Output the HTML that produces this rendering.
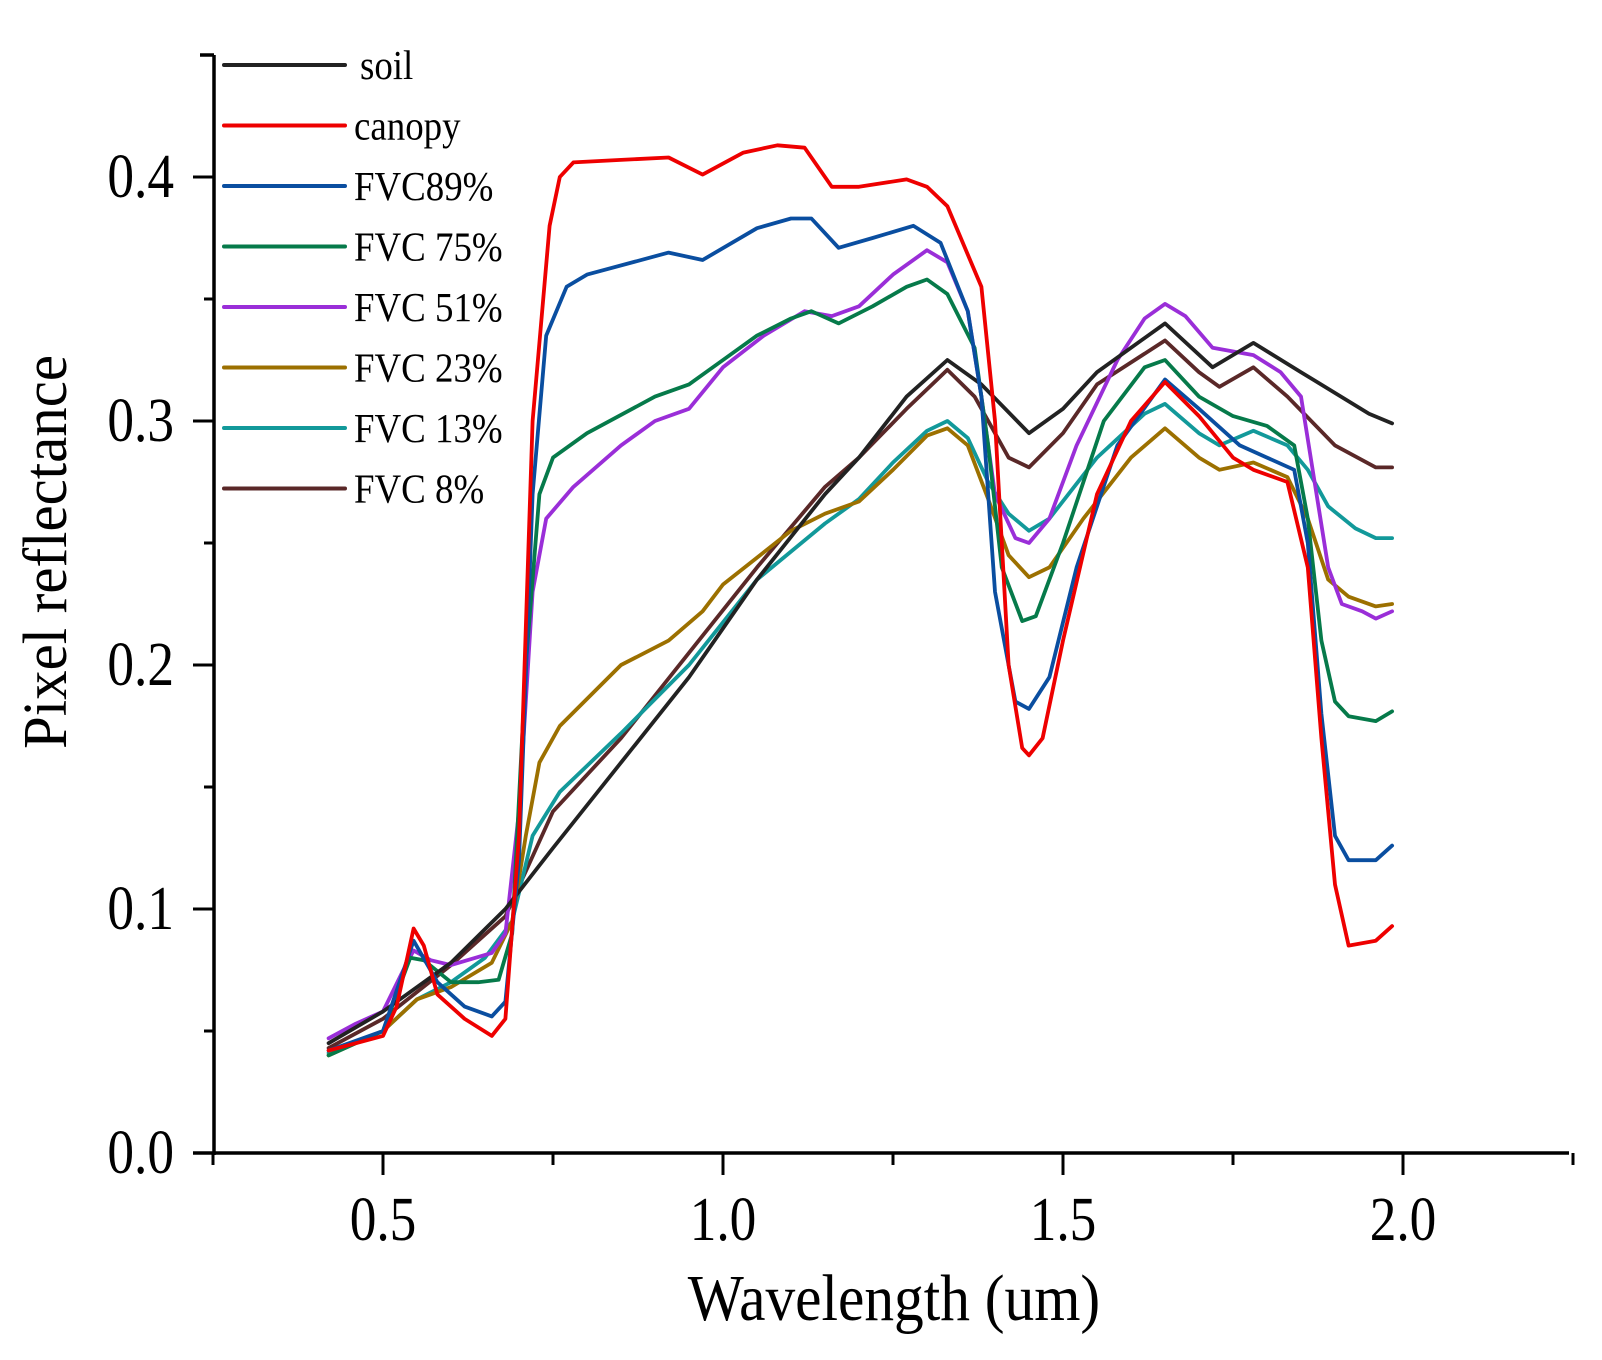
<!DOCTYPE html>
<html><head><meta charset="utf-8"><style>
html,body{margin:0;padding:0;background:#fff;}
svg{display:block;}
text{font-family:"Liberation Serif",serif;fill:#000;}
</style></head><body>
<svg id="c" width="1602" height="1360" viewBox="0 0 1602 1360" xmlns="http://www.w3.org/2000/svg">
<g stroke="#000" stroke-width="3.5" fill="none">
<line x1="214" y1="55" x2="214" y2="1155"/>
<line x1="193" y1="1153" x2="1569" y2="1153"/>
<line x1="200" y1="55" x2="214" y2="55"/>
</g>
<g id="ticks" stroke="#000" stroke-width="3" fill="none"></g>
<g font-size="62" text-anchor="end">
<text transform="translate(174,1173) scale(0.86,1)">0.0</text>
<text transform="translate(174,929) scale(0.86,1)">0.1</text>
<text transform="translate(174,685) scale(0.86,1)">0.2</text>
<text transform="translate(174,441) scale(0.86,1)">0.3</text>
<text transform="translate(174,197) scale(0.86,1)">0.4</text>
</g>
<g font-size="62" text-anchor="middle">
<text transform="translate(383,1240) scale(0.86,1)">0.5</text>
<text transform="translate(723,1240) scale(0.86,1)">1.0</text>
<text transform="translate(1063,1240) scale(0.86,1)">1.5</text>
<text transform="translate(1403,1240) scale(0.86,1)">2.0</text>
</g>
<text transform="translate(894,1320) scale(0.9,1)" font-size="66" text-anchor="middle">Wavelength (um)</text>
<text transform="translate(66,552) rotate(-90) scale(0.95,1)" font-size="62" text-anchor="middle">Pixel reflectance</text>
<g id="series" fill="none" stroke-width="3.8" stroke-linejoin="round" stroke-linecap="round"></g>
<g id="legend" font-size="41"></g>
</svg>
<script>
var X=function(w){return 383+(w-0.5)*680;},Y=function(r){return 1153-r*2440;};
var t=document.getElementById('ticks'),s='';
for(var i=0;i<=8;i++){var y=1153-i*122;s+='<line x1="'+(i%2?204:193)+'" y1="'+y+'" x2="214" y2="'+y+'"/>';}
for(var w=0.25;w<=2.26;w+=0.25){var x=X(w),maj=Math.abs(w*2-Math.round(w*2))<0.01;s+='<line x1="'+x+'" y1="1153" x2="'+x+'" y2="'+(maj?1175:1165)+'"/>';}
t.innerHTML=s;
var D=[
["soil","#222222",[0.42,0.045,0.5,0.058,0.6,0.078,0.68,0.1,0.75,0.125,0.85,0.16,0.95,0.195,1.05,0.235,1.15,0.27,1.2,0.285,1.27,0.31,1.33,0.325,1.38,0.315,1.45,0.295,1.5,0.305,1.55,0.32,1.65,0.34,1.72,0.322,1.78,0.332,1.85,0.32,1.95,0.303,1.984,0.299]],
["canopy","#ee0000",[0.42,0.042,0.5,0.048,0.52,0.06,0.545,0.092,0.56,0.085,0.58,0.065,0.62,0.055,0.66,0.048,0.68,0.055,0.7,0.13,0.72,0.3,0.745,0.38,0.76,0.4,0.78,0.406,0.85,0.407,0.92,0.408,0.97,0.401,1.03,0.41,1.08,0.413,1.12,0.412,1.16,0.396,1.2,0.396,1.27,0.399,1.3,0.396,1.33,0.388,1.38,0.355,1.4,0.3,1.42,0.2,1.44,0.166,1.45,0.163,1.47,0.17,1.5,0.21,1.55,0.27,1.6,0.3,1.65,0.316,1.7,0.302,1.75,0.285,1.78,0.28,1.83,0.275,1.86,0.24,1.88,0.17,1.9,0.11,1.92,0.085,1.96,0.087,1.984,0.093]],
["FVC89%","#0a4ea0",[0.42,0.042,0.5,0.05,0.545,0.087,0.58,0.07,0.62,0.06,0.66,0.056,0.68,0.062,0.7,0.12,0.72,0.27,0.74,0.335,0.77,0.355,0.8,0.36,0.92,0.369,0.97,0.366,1.05,0.379,1.1,0.383,1.13,0.383,1.17,0.371,1.22,0.375,1.28,0.38,1.32,0.373,1.36,0.345,1.38,0.31,1.4,0.23,1.43,0.185,1.45,0.182,1.48,0.195,1.52,0.24,1.58,0.29,1.65,0.317,1.7,0.305,1.76,0.29,1.8,0.285,1.84,0.28,1.86,0.25,1.88,0.18,1.9,0.13,1.92,0.12,1.96,0.12,1.984,0.126]],
["FVC 75%","#067a4a",[0.42,0.04,0.5,0.05,0.54,0.08,0.56,0.079,0.6,0.07,0.64,0.07,0.67,0.071,0.69,0.09,0.71,0.2,0.73,0.27,0.75,0.285,0.8,0.295,0.9,0.31,0.95,0.315,1.0,0.325,1.05,0.335,1.1,0.342,1.13,0.345,1.17,0.34,1.22,0.347,1.27,0.355,1.3,0.358,1.33,0.352,1.37,0.33,1.39,0.29,1.41,0.24,1.44,0.218,1.46,0.22,1.5,0.25,1.56,0.3,1.62,0.322,1.65,0.325,1.7,0.31,1.75,0.302,1.8,0.298,1.84,0.29,1.86,0.26,1.88,0.21,1.9,0.185,1.92,0.179,1.96,0.177,1.984,0.181]],
["FVC 51%","#9a2ed8",[0.42,0.047,0.46,0.053,0.5,0.058,0.53,0.075,0.545,0.083,0.57,0.079,0.6,0.077,0.66,0.082,0.68,0.09,0.7,0.14,0.72,0.23,0.74,0.26,0.78,0.273,0.85,0.29,0.9,0.3,0.95,0.305,1.0,0.322,1.06,0.335,1.12,0.345,1.16,0.343,1.2,0.347,1.25,0.36,1.3,0.37,1.33,0.365,1.36,0.345,1.38,0.31,1.4,0.27,1.43,0.252,1.45,0.25,1.48,0.26,1.52,0.29,1.58,0.325,1.62,0.342,1.65,0.348,1.68,0.343,1.72,0.33,1.78,0.327,1.82,0.32,1.85,0.31,1.87,0.275,1.89,0.24,1.91,0.225,1.94,0.222,1.96,0.219,1.984,0.222]],
["FVC 23%","#9c7000",[0.42,0.04,0.5,0.05,0.55,0.063,0.6,0.068,0.66,0.078,0.69,0.095,0.71,0.13,0.73,0.16,0.76,0.175,0.85,0.2,0.92,0.21,0.97,0.222,1.0,0.233,1.1,0.255,1.15,0.262,1.2,0.267,1.25,0.28,1.3,0.294,1.33,0.297,1.36,0.29,1.39,0.268,1.42,0.245,1.45,0.236,1.48,0.24,1.53,0.26,1.6,0.285,1.65,0.297,1.7,0.285,1.73,0.28,1.78,0.283,1.83,0.277,1.86,0.26,1.89,0.235,1.92,0.228,1.96,0.224,1.984,0.225]],
["FVC 13%","#12999a",[0.42,0.041,0.5,0.05,0.55,0.063,0.6,0.07,0.65,0.08,0.69,0.095,0.72,0.13,0.76,0.148,0.85,0.172,0.95,0.2,1.05,0.235,1.15,0.258,1.2,0.268,1.25,0.283,1.3,0.296,1.33,0.3,1.36,0.293,1.39,0.275,1.42,0.262,1.45,0.255,1.48,0.26,1.55,0.285,1.62,0.303,1.65,0.307,1.7,0.295,1.73,0.29,1.78,0.296,1.83,0.29,1.86,0.28,1.89,0.265,1.93,0.256,1.96,0.252,1.984,0.252]],
["FVC 8%","#5a2828",[0.42,0.043,0.5,0.055,0.6,0.077,0.68,0.097,0.75,0.14,0.85,0.17,0.95,0.205,1.05,0.24,1.15,0.273,1.2,0.285,1.27,0.305,1.33,0.321,1.37,0.31,1.42,0.285,1.45,0.281,1.5,0.295,1.55,0.315,1.65,0.333,1.7,0.32,1.73,0.314,1.78,0.322,1.83,0.31,1.9,0.29,1.96,0.281,1.984,0.281]]
];
var order=[7,6,5,4,3,0,2,1],g='',L='';
order.forEach(function(k){var d=D[k][2],p='';for(var i=0;i<d.length;i+=2)p+=(i?'L':'M')+X(d[i]).toFixed(1)+','+Y(d[i+1]).toFixed(1);g+='<path d="'+p+'" stroke="'+D[k][1]+'"/>';});
D.forEach(function(d,i){var y=65+i*60.5;L+='<line x1="224" y1="'+y+'" x2="345" y2="'+y+'" stroke="'+d[1]+'" stroke-width="4" stroke-linecap="round"/><text transform="translate('+(i==0?360:354)+','+(y+14)+') scale(0.9,1)">'+d[0]+'</text>';});
document.getElementById('series').innerHTML=g;
document.getElementById('legend').innerHTML=L;
</script>
</body></html>
